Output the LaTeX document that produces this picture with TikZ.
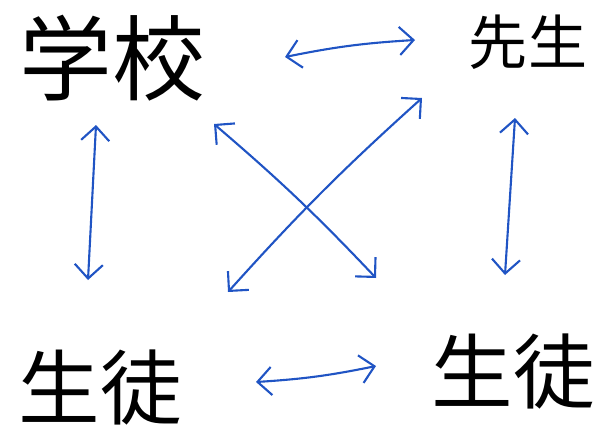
\documentclass[tikz,border=0pt]{standalone}
\usepackage{fontspec}
\newfontfamily\cjk{Noto Sans CJK JP}
\usetikzlibrary{arrows.meta}
\definecolor{inkblue}{RGB}{32,84,196}
\tikzset{
    word/.style={font=\cjk, text=black, inner sep=0pt},
    link/.style={inkblue, line width=3pt, line cap=round, line join=round,
        {Straight Barb[length=20pt, width=40pt]}-{Straight Barb[length=20pt, width=40pt]}},
    common settings/.style={x=0.05cm, y=-0.05cm}
}
\begin{document}
\begin{tikzpicture}[common settings]

    \useasboundingbox (0,0) rectangle (596,440);

    % Words
    \node[word, font=\cjk\fontsize{132}{134}\selectfont] (school) at (112,58) {学校};
    \node[word, font=\cjk\fontsize{84}{86}\selectfont] (teacher) at (528,42) {先生};
    \node[word, font=\cjk\fontsize{116}{118}\selectfont] (pupilL) at (100,388) {生徒};
    \node[word, font=\cjk\fontsize{116}{118}\selectfont] (pupilR) at (513,372) {生徒};

    % Arrow ends
    \coordinate (st1) at (285,57);  \coordinate (st2) at (415,40);   % school - teacher
    \coordinate (sp1) at (96,125);  \coordinate (sp2) at (88,280);   % school - pupilL
    \coordinate (tp1) at (515,118); \coordinate (tp2) at (505,275);  % teacher - pupilR
    \coordinate (pp1) at (256,382); \coordinate (pp2) at (376,366);  % pupilL - pupilR
    \coordinate (sq1) at (214,124); \coordinate (sq2) at (376,278);  % school - pupilR
    \coordinate (tq1) at (422,98);  \coordinate (tq2) at (228,292);  % teacher - pupilL

    % Arrows
    \draw[link] (st1) to[bend left=4] (st2);
    \draw[link] (sp1) -- (sp2);
    \draw[link] (tp1) -- (tp2);
    \draw[link] (pp1) to[bend right=4] (pp2);
    \draw[link] (sq1) to[bend left=3] (sq2);
    \draw[link] (tq1) to[bend right=3] (tq2);

\end{tikzpicture}
\end{document}
